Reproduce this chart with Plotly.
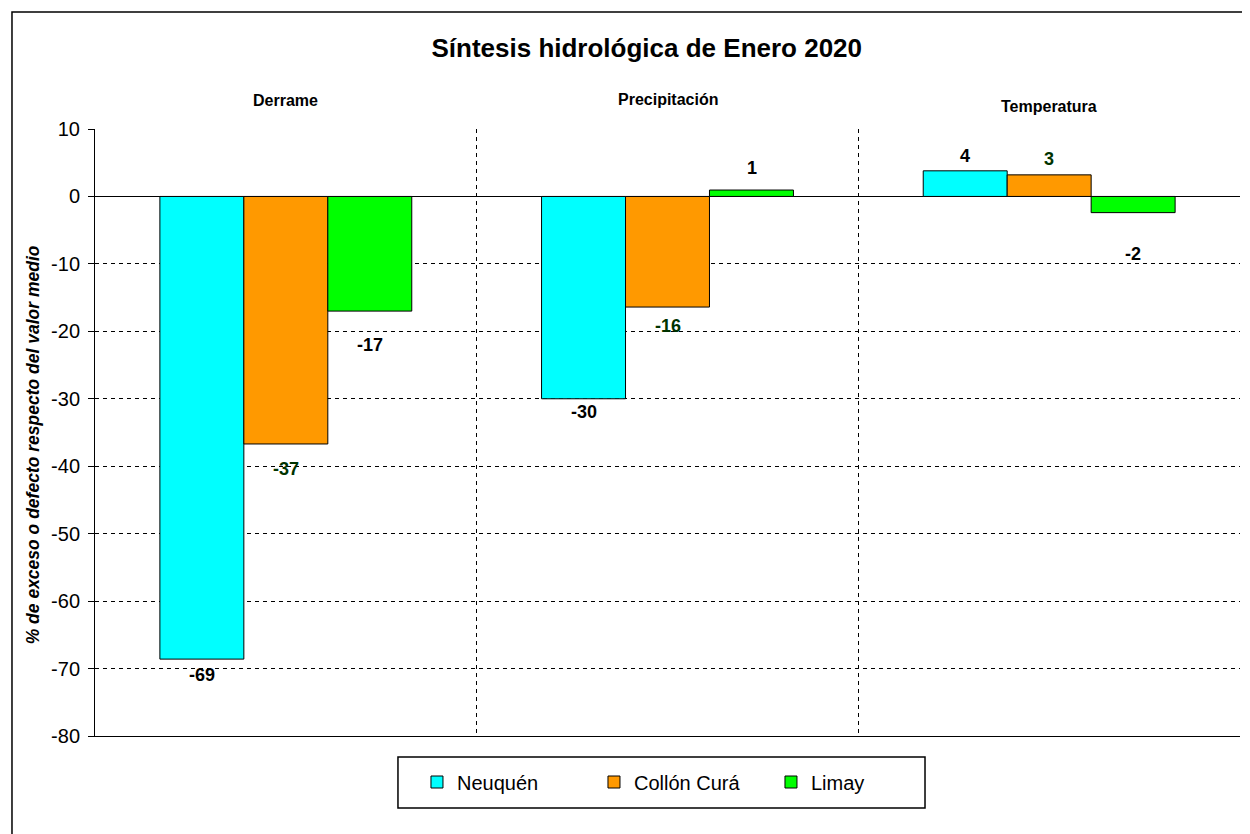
import plotly.graph_objects as go

categories = ["Derrame", "Precipitación", "Temperatura"]
series_names = ["Neuquén", "Collón Curá", "Limay"]
neuquen = [-68.6, -30.0, 3.8]
collon_cura = [-36.7, -16.4, 3.2]
limay = [-17.0, 0.95, -2.4]
labels_neuquen = ["-69", "-30", "4"]
labels_collon = ["-37", "-16", "3"]
labels_limay = ["-17", "1", "-2"]
y_ticks = [10, 0, -10, -20, -30, -40, -50, -60, -70, -80]
y_tick_text = ["10", "0", "-10", "-20", "-30", "-40", "-50", "-60", "-70", "-80"]

colors = ["#00FFFF", "#FF9900", "#00FF00"]
label_colors = ["#000000", "#003300", "#000000"]
# pixel shifts of value labels away from bar ends (style)
label_shifts = [[-16, -13, 15], [-25, -19, 16], [-34, 22, -41]]
cat_label_shifts = [29, 30, 23]

FONT = "Liberation Sans, Arial, sans-serif"

fig = go.Figure()
all_vals = [neuquen, collon_cura, limay]
all_labels = [labels_neuquen, labels_collon, labels_limay]
for name, vals, col in zip(series_names, all_vals, colors):
    fig.add_trace(go.Bar(
        x=categories, y=vals, name=name,
        marker=dict(color=col, line=dict(color="black", width=1)),
    ))

# value labels
offsets = [-1, 0, 1]
for si in range(3):
    for ci, cat in enumerate(categories):
        fig.add_annotation(
            x=cat, y=all_vals[si][ci], text="<b>%s</b>" % all_labels[si][ci],
            showarrow=False, xref="x", yref="y",
            xshift=offsets[si] * 84, yshift=label_shifts[si][ci],
            font=dict(family=FONT, size=18, color=label_colors[si]),
        )

# category labels above plot
for ci, cat in enumerate(categories):
    fig.add_annotation(
        x=cat, y=1, xref="x", yref="paper", text="<b>%s</b>" % cat,
        showarrow=False, yshift=cat_label_shifts[ci], yanchor="middle",
        font=dict(family=FONT, size=16, color="black"),
    )

# y axis title
fig.add_annotation(
    x=-0.0541, y=0.479, xref="paper", yref="paper", textangle=-90,
    text="<b><i>% de exceso o defecto respecto del valor medio</i></b>",
    showarrow=False, xanchor="center", yanchor="middle",
    font=dict(family=FONT, size=17.5, color="black"),
)

fig.update_layout(
    width=1250, height=834,
    margin=dict(l=87, r=18, t=121, b=106, autoexpand=False),
    paper_bgcolor="white", plot_bgcolor="white",
    barmode="group", bargap=0.34, bargroupgap=0,
    title=dict(text="<b>Síntesis hidrológica de Enero 2020</b>", x=0.511, xanchor="center",
               y=0.952, yanchor="middle",
               font=dict(family=FONT, size=26, color="black")),
    font=dict(family=FONT, color="black"),
    legend=dict(orientation="h", x=0.2812, xanchor="left", y=-0.0758, yanchor="middle",
                borderwidth=0, bgcolor="rgba(0,0,0,0)",
                font=dict(family=FONT, size=20, color="black"),
                entrywidth=132, traceorder="normal"),
    showlegend=True,
)
fig.update_xaxes(
    side="bottom", tickson="boundaries", showgrid=True, griddash="4px,4px",
    gridcolor="black", gridwidth=1, ticks="", showline=True, linecolor="black",
    linewidth=1, showticklabels=False, automargin=False,
)
fig.update_yaxes(
    range=[-80, 10], tickvals=y_ticks, ticktext=y_tick_text,
    ticks="outside", ticklen=6, tickcolor="black", ticklabelstandoff=4,
    showline=True, linecolor="black", linewidth=1,
    showgrid=True, griddash="4px,4px", gridcolor="black", gridwidth=1,
    zeroline=True, zerolinecolor="black", zerolinewidth=1,
    tickfont=dict(family=FONT, size=20, color="black"),
    automargin=False,
)
# legend box
fig.add_shape(type="rect", xref="paper", yref="paper",
              x0=0.2646, x1=0.7249, y0=-0.1186, y1=-0.0346,
              line=dict(color="black", width=1.5), fillcolor="white", layer="below")
# outer chart border (bottom edge falls outside the page)
fig.add_shape(type="rect", xref="paper", yref="paper",
              x0=-0.0725, x1=1.006, y0=-0.19, y1=1.1928,
              line=dict(color="black", width=1.5), fillcolor="rgba(0,0,0,0)", layer="below")

fig.write_html("out.html")
